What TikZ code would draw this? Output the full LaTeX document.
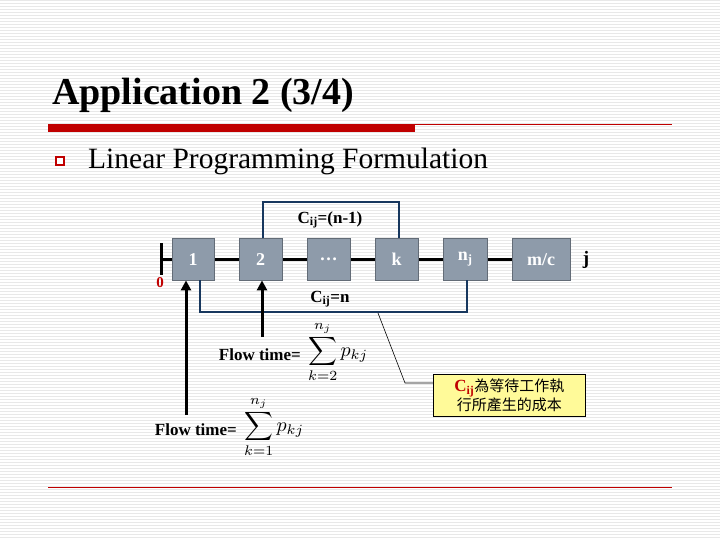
\documentclass[tikz,border=0pt]{standalone}
\usepackage{fontspec}
\setmainfont{Liberation Serif}
\newfontfamily\cjk{Noto Sans CJK TC}
\usetikzlibrary{arrows.meta}
\definecolor{boxg}{HTML}{8E9BAA}
\definecolor{lblue}{HTML}{17375E}
\definecolor{dred}{HTML}{C00000}
\begin{document}
\begin{tikzpicture}[x=1pt,y=-1pt,
  job/.style={draw=boxg!70!black,fill=boxg,text=white,font=\bfseries\fontsize{18}{18}\selectfont,minimum height=42pt,inner sep=0pt,anchor=north west},
  lbl/.style={font=\bfseries\fontsize{17}{17}\selectfont,inner sep=0pt},
  link/.style={lblue,line width=2.5pt},
  arr/.style={line width=3pt,-{Triangle[length=10pt,width=10pt]}}]
\useasboundingbox (0,0) rectangle (720,540);
\fill[white] (0,0) rectangle (720,540);
\foreach \i in {0,3,...,540} \draw[gray!18,line width=0.5pt] (0,\i) -- (720,\i);
% title
\node[anchor=west,font=\bfseries\fontsize{38}{38}\selectfont,inner sep=0pt] (title) at (52,95) {Application 2 (3/4)};
\fill[dred] (48,124) rectangle (415,132);
\draw[dred,line width=0.8pt] (415,124.5) -- (672,124.5);
\draw[dred,line width=1.8pt,fill=white] (56,157) rectangle (64,165);
\node[anchor=west,font=\fontsize{29.5}{30}\selectfont,inner sep=0pt] (sub) at (88,161) {Linear Programming Formulation};
\draw[dred,line width=1pt] (48,487) -- (672,487);
% main line
\coordinate (z0) at (161,259);
\draw[line width=3pt] (161,243) -- (161,275);
\draw[line width=3pt] (z0) -- (512,259);
\node[job,minimum width=42pt] (b1) at (172,238) {1};
\node[job,minimum width=43pt] (b2) at (239,238) {2};
\node[job,minimum width=43pt] (b3) at (307,238) {\ldots};
\node[job,minimum width=43pt] (bk) at (375,238) {k};
\node[job,minimum width=44pt] (bn) at (443,238) {n$_{\mathbf j}$};
\node[job,minimum width=58pt] (bm) at (512,238) {m/c};
\node[lbl,font=\bfseries\fontsize{19}{19}\selectfont] (jj) at (586,260) {j};
\node[lbl,text=dred,font=\bfseries\fontsize{15}{15}\selectfont] (zero) at (160,283) {0};
% links
\draw[link] (b2.north -| 263,238) -- (263,202) -- (399,202) -- (bk.north -| 399,238);
\node[lbl] (c1) at (330,220) {C$_{\mathbf{ij}}$=(n-1)};
\draw[link] (b1.south -| 200,280) -- (200,312) -- (467,312) -- (bn.south -| 467,280);
\node[lbl] (c2) at (330,299) {C$_{\mathbf{ij}}$=n};
% arrows
\coordinate (a1) at (186,415);
\coordinate (a2) at (262,337);
\draw[arr] (a1) -- (a1 |- b1.south);
\draw[arr] (a2) -- (a2 |- b2.south);
\node[lbl,anchor=east] (f2) at (301,355) {Flow time=};
\node[inner sep=0pt,anchor=west] (s2) at (308,352) {\scalebox{2}{$\displaystyle\sum_{k=2}^{n_j} p_{kj}$}};
\node[lbl,anchor=east] (f1) at (237,430) {Flow time=};
\node[inner sep=0pt,anchor=west] (s1) at (244,427) {\scalebox{2}{$\displaystyle\sum_{k=1}^{n_j} p_{kj}$}};
% callout
\node[draw=black,line width=0.6pt,fill=yellow!40,minimum width=152pt,minimum height=42pt,inner sep=0pt,anchor=north west,align=center,font=\fontsize{15}{19}\selectfont] (cal) at (433,374) {{\color{dred}\bfseries\fontsize{17}{17}\selectfont C$_{\mathbf{ij}}$}{\cjk 為等待工作執}\\{\cjk 行所產生的成本}};
\coordinate (cp) at (378,313);
\draw[line width=0.6pt] (cp) -- (405,383) -- (cal.west |- 0,383);
\end{tikzpicture}
\end{document}
